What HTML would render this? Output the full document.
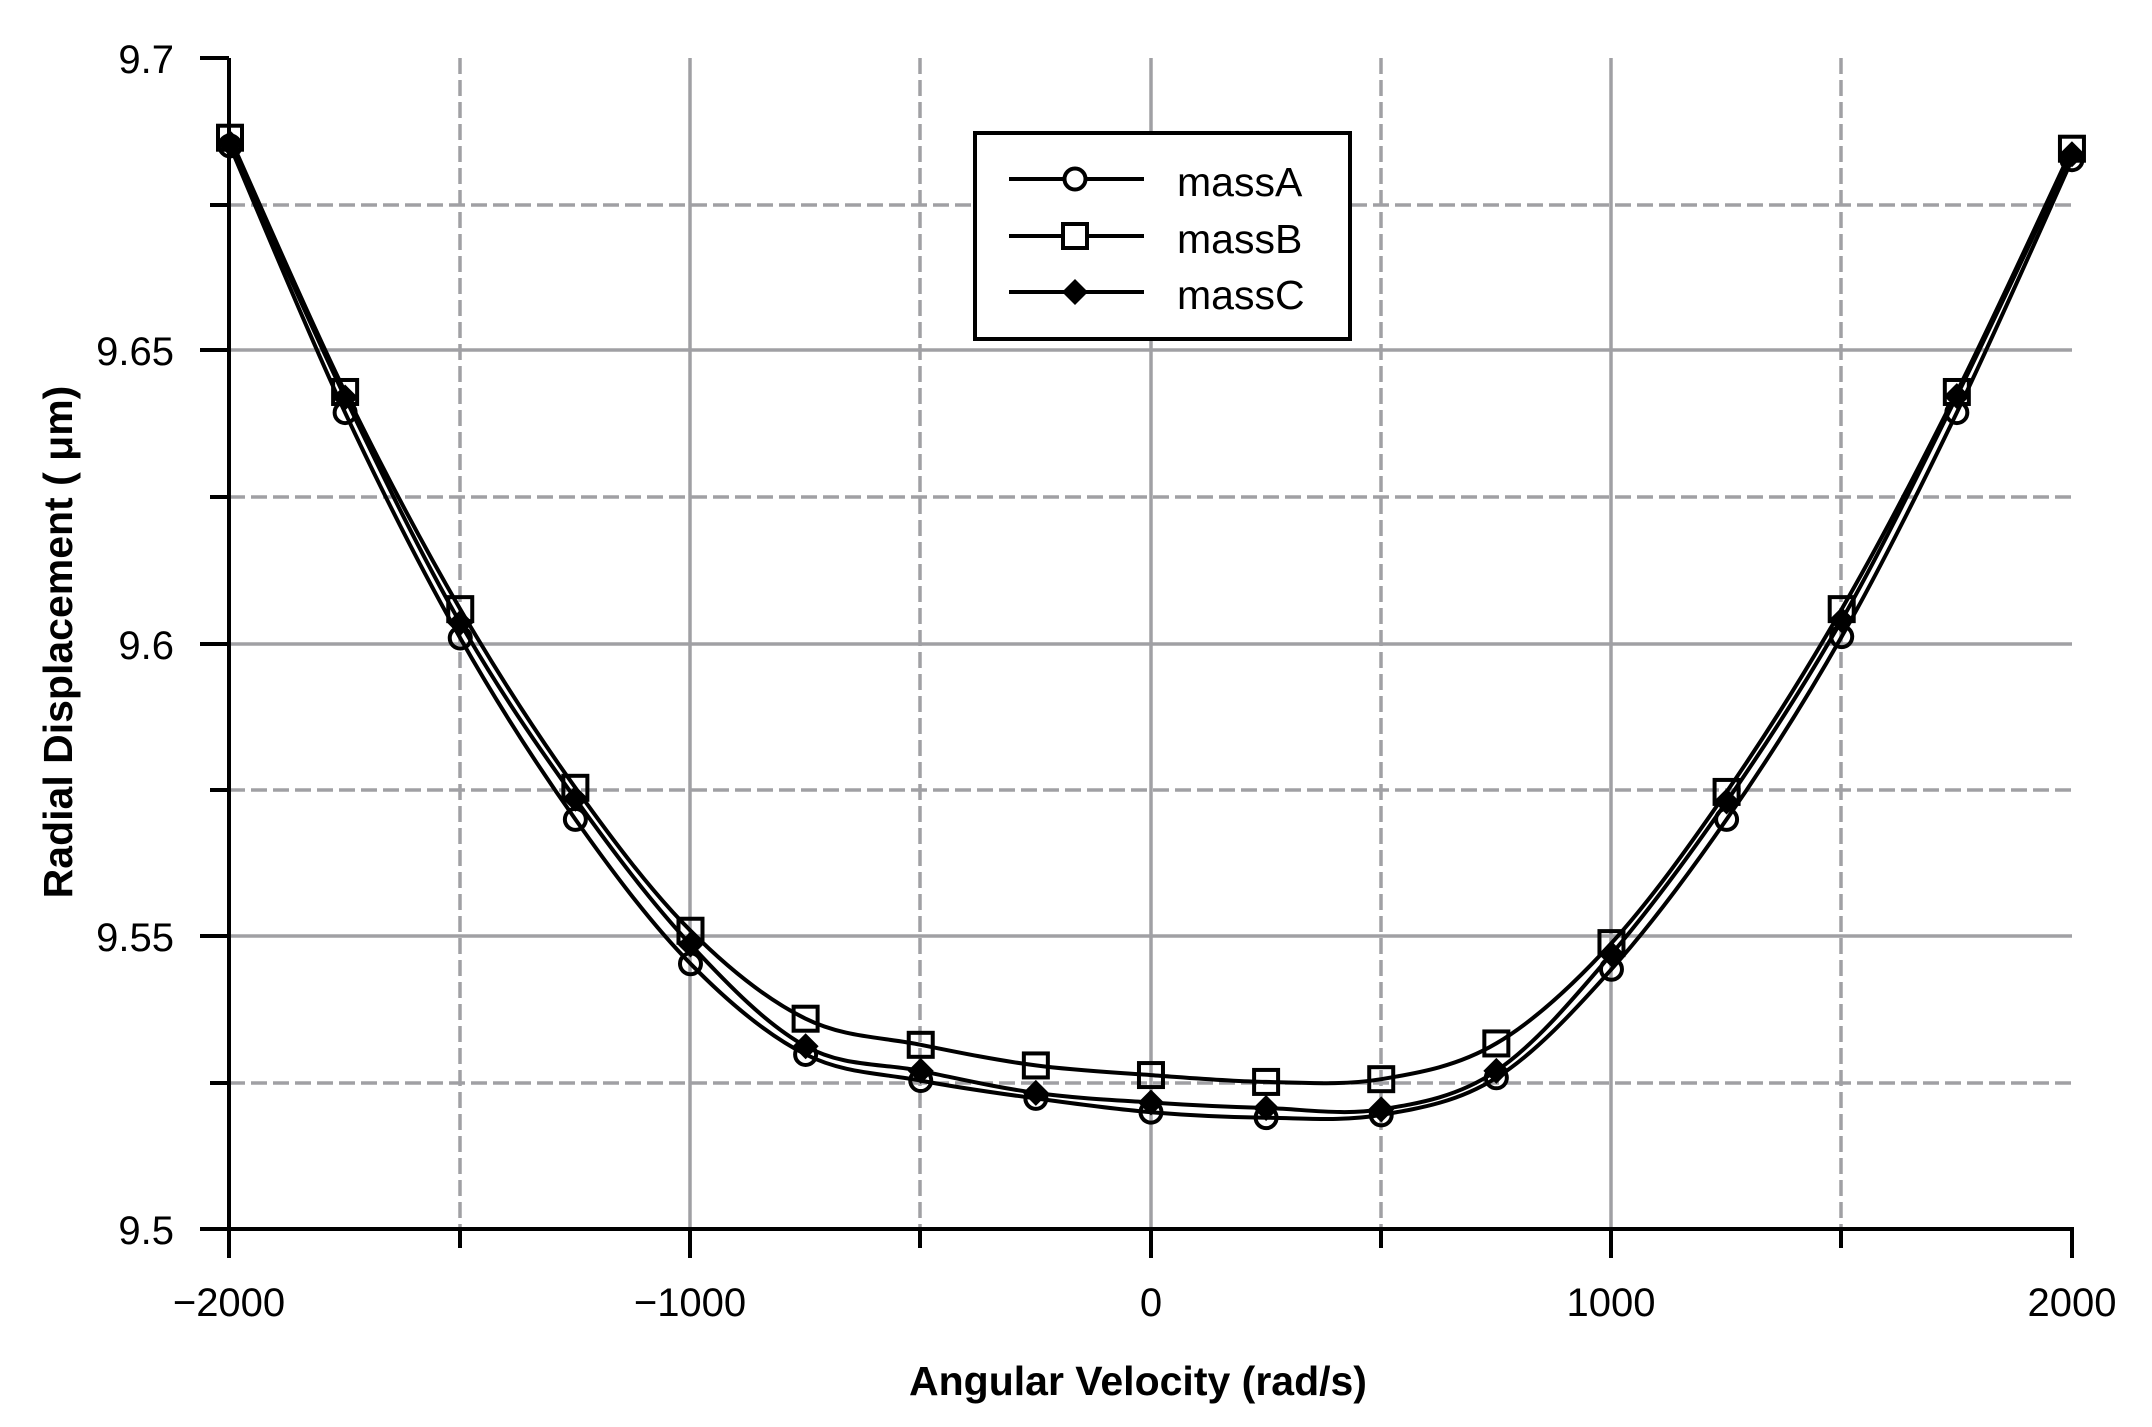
<!DOCTYPE html>
<html><head><meta charset="utf-8"><style>
html,body{margin:0;padding:0;background:#fff;}
svg{display:block;}
text{font-family:"Liberation Sans",Arial,sans-serif;}
</style></head><body>
<svg id="s" width="2152" height="1427" viewBox="0 0 2152 1427" xmlns="http://www.w3.org/2000/svg">
<rect width="2152" height="1427" fill="#fff"/>
<g stroke="#a0a0a4" stroke-width="3.5" fill="none">
  <line x1="690" y1="58" x2="690" y2="1229"/>
  <line x1="1151" y1="58" x2="1151" y2="1229"/>
  <line x1="1611" y1="58" x2="1611" y2="1229"/>
  <line x1="229" y1="350" x2="2072" y2="350"/>
  <line x1="229" y1="644" x2="2072" y2="644"/>
  <line x1="229" y1="936" x2="2072" y2="936"/>
</g>
<g stroke="#a0a0a4" stroke-width="3.5" fill="none" stroke-dasharray="16,6">
  <line x1="460" y1="58" x2="460" y2="1229"/>
  <line x1="920" y1="58" x2="920" y2="1229"/>
  <line x1="1381" y1="58" x2="1381" y2="1229"/>
  <line x1="1841" y1="58" x2="1841" y2="1229"/>
  <line x1="229" y1="205" x2="2072" y2="205"/>
  <line x1="229" y1="497" x2="2072" y2="497"/>
  <line x1="229" y1="790" x2="2072" y2="790"/>
  <line x1="229" y1="1083" x2="2072" y2="1083"/>
</g>
<g stroke="#000" stroke-width="4" fill="none">
  <line x1="229" y1="58" x2="229" y2="1231"/>
  <line x1="227" y1="1229" x2="2074" y2="1229"/>
  <line x1="200" y1="58" x2="229" y2="58"/>
  <line x1="210" y1="205" x2="229" y2="205"/>
  <line x1="200" y1="350" x2="229" y2="350"/>
  <line x1="210" y1="497" x2="229" y2="497"/>
  <line x1="200" y1="644" x2="229" y2="644"/>
  <line x1="210" y1="790" x2="229" y2="790"/>
  <line x1="200" y1="936" x2="229" y2="936"/>
  <line x1="210" y1="1083" x2="229" y2="1083"/>
  <line x1="200" y1="1229" x2="229" y2="1229"/>
  <line x1="229" y1="1229" x2="229" y2="1258"/>
  <line x1="460" y1="1229" x2="460" y2="1248"/>
  <line x1="690" y1="1229" x2="690" y2="1258"/>
  <line x1="920" y1="1229" x2="920" y2="1248"/>
  <line x1="1151" y1="1229" x2="1151" y2="1258"/>
  <line x1="1381" y1="1229" x2="1381" y2="1248"/>
  <line x1="1611" y1="1229" x2="1611" y2="1258"/>
  <line x1="1841" y1="1229" x2="1841" y2="1248"/>
  <line x1="2072" y1="1229" x2="2072" y2="1258"/>
</g>
<g font-size="40" fill="#000" text-anchor="end">
  <text x="174" y="73">9.7</text>
  <text x="174" y="365">9.65</text>
  <text x="174" y="659">9.6</text>
  <text x="174" y="951">9.55</text>
  <text x="174" y="1244">9.5</text>
</g>
<g font-size="40" fill="#000" text-anchor="middle">
  <text x="229" y="1316">−2000</text>
  <text x="690" y="1316">−1000</text>
  <text x="1151" y="1316">0</text>
  <text x="1611" y="1316">1000</text>
  <text x="2072" y="1316">2000</text>
</g>
<text x="1138" y="1395" font-size="41" font-weight="bold" text-anchor="middle">Angular Velocity (rad/s)</text>
<text transform="translate(72,642) rotate(-90)" font-size="41" font-weight="bold" text-anchor="middle">Radial Displacement ( μm)</text>
<g id="data"></g>

<rect x="975" y="133" width="375" height="206" fill="#fff" stroke="#000" stroke-width="4"/>
<g stroke="#000" stroke-width="4">
  <line x1="1009" y1="179" x2="1144" y2="179"/>
  <line x1="1009" y1="236" x2="1144" y2="236"/>
  <line x1="1009" y1="292" x2="1144" y2="292"/>
</g>
<circle cx="1075" cy="179" r="10.5" fill="#fff" stroke="#000" stroke-width="4"/>
<rect x="1063" y="224" width="24" height="24" fill="#fff" stroke="#000" stroke-width="4"/>
<path d="M1075,279 l13,13 l-13,13 l-13,-13z" fill="#000"/>
<g font-size="41" fill="#000">
  <text x="1177" y="196">massA</text>
  <text x="1177" y="253">massB</text>
  <text x="1177" y="309">massC</text>
</g>
</svg>
<script>
var A=[108,302,466,598,703,769,788,801,811,815,813,786,707,598,465,302,118];
var B=[102,287,445,575,679,743,762,777,784,789,787,761,688,578,445,287,110];
var C=[106,291,455,583,689,763,781,797,804,808,809,781,696,585,453,290,114];
function pts(a){return a.map(function(dy,i){return [230+i*84*1.3705, 58+(dy-44)*1.3744];});}
function curve(p){var d="M"+p[0][0].toFixed(1)+","+p[0][1].toFixed(1);
 for(var i=0;i<p.length-1;i++){var p0=p[i-1]||p[i],p1=p[i],p2=p[i+1],p3=p[i+2]||p2;
 var c1=[p1[0]+(p2[0]-p0[0])/6,p1[1]+(p2[1]-p0[1])/6],c2=[p2[0]-(p3[0]-p1[0])/6,p2[1]-(p3[1]-p1[1])/6];
 d+=" C"+c1[0].toFixed(1)+","+c1[1].toFixed(1)+" "+c2[0].toFixed(1)+","+c2[1].toFixed(1)+" "+p2[0].toFixed(1)+","+p2[1].toFixed(1);}return d;}
var g=document.getElementById("data"),h="";
[A,B,C].forEach(function(a){h+='<path d="'+curve(pts(a))+'" fill="none" stroke="#000" stroke-width="4"/>';});
pts(A).forEach(function(q){h+='<circle cx="'+q[0]+'" cy="'+q[1]+'" r="10.5" fill="none" stroke="#000" stroke-width="4"/>';});
pts(B).forEach(function(q){h+='<rect x="'+(q[0]-12)+'" y="'+(q[1]-12)+'" width="24" height="24" fill="none" stroke="#000" stroke-width="4"/>';});
pts(C).forEach(function(q){h+='<path d="M'+q[0]+','+(q[1]-13)+' l13,13 l-13,13 l-13,-13z" fill="#000"/>';});
g.innerHTML=h;
</script>
</body></html>
